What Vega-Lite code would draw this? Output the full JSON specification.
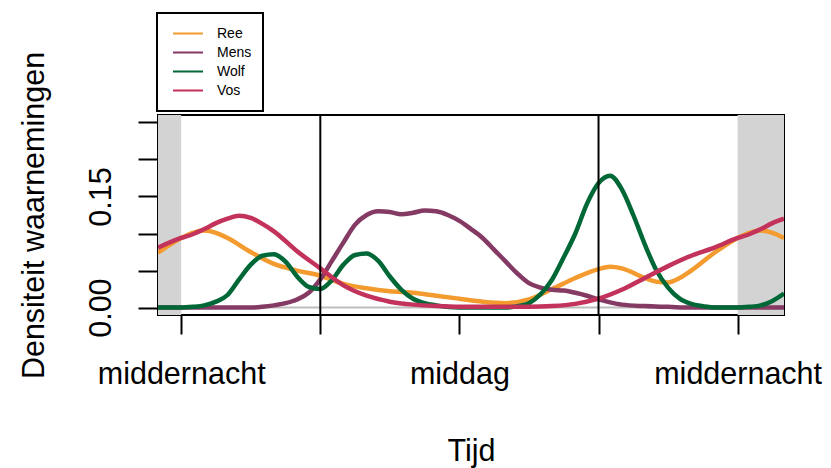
{
  "$schema": "https://vega.github.io/schema/vega-lite/v6.json",
  "width": 626,
  "height": 200,
  "autosize": {"type": "none"},
  "padding": {"left": 158, "top": 115, "right": 47, "bottom": 153},
  "background": "white",
  "config": {
    "view": {"stroke": "black", "strokeWidth": 2},
    "font": "Liberation Sans",
    "legend": {"strokeWidth": 2}
  },
  "datasets": {
    "curves": [
      {"soort": "Ree", "uur": -1, "dichtheid": 0.074},
      {"soort": "Ree", "uur": 0, "dichtheid": 0.094},
      {"soort": "Ree", "uur": 0.5, "dichtheid": 0.101},
      {"soort": "Ree", "uur": 1, "dichtheid": 0.104},
      {"soort": "Ree", "uur": 1.5, "dichtheid": 0.101},
      {"soort": "Ree", "uur": 2, "dichtheid": 0.094},
      {"soort": "Ree", "uur": 3, "dichtheid": 0.075},
      {"soort": "Ree", "uur": 4, "dichtheid": 0.059},
      {"soort": "Ree", "uur": 5, "dichtheid": 0.05},
      {"soort": "Ree", "uur": 6, "dichtheid": 0.043},
      {"soort": "Ree", "uur": 7, "dichtheid": 0.032},
      {"soort": "Ree", "uur": 8, "dichtheid": 0.026},
      {"soort": "Ree", "uur": 9, "dichtheid": 0.022},
      {"soort": "Ree", "uur": 10, "dichtheid": 0.02},
      {"soort": "Ree", "uur": 11, "dichtheid": 0.016},
      {"soort": "Ree", "uur": 12, "dichtheid": 0.012},
      {"soort": "Ree", "uur": 13, "dichtheid": 0.008},
      {"soort": "Ree", "uur": 14, "dichtheid": 0.006},
      {"soort": "Ree", "uur": 15, "dichtheid": 0.011},
      {"soort": "Ree", "uur": 16, "dichtheid": 0.025},
      {"soort": "Ree", "uur": 17, "dichtheid": 0.04},
      {"soort": "Ree", "uur": 18, "dichtheid": 0.052},
      {"soort": "Ree", "uur": 18.5, "dichtheid": 0.055},
      {"soort": "Ree", "uur": 19, "dichtheid": 0.053},
      {"soort": "Ree", "uur": 20, "dichtheid": 0.04},
      {"soort": "Ree", "uur": 20.5, "dichtheid": 0.035},
      {"soort": "Ree", "uur": 21, "dichtheid": 0.034},
      {"soort": "Ree", "uur": 21.5, "dichtheid": 0.04},
      {"soort": "Ree", "uur": 22, "dichtheid": 0.05},
      {"soort": "Ree", "uur": 23, "dichtheid": 0.074},
      {"soort": "Ree", "uur": 24, "dichtheid": 0.094},
      {"soort": "Ree", "uur": 24.5, "dichtheid": 0.101},
      {"soort": "Ree", "uur": 25, "dichtheid": 0.104},
      {"soort": "Ree", "uur": 25.5, "dichtheid": 0.101},
      {"soort": "Ree", "uur": 26, "dichtheid": 0.094},

      {"soort": "Mens", "uur": -1, "dichtheid": 0.0},
      {"soort": "Mens", "uur": 0, "dichtheid": 0.0},
      {"soort": "Mens", "uur": 1, "dichtheid": 0.0},
      {"soort": "Mens", "uur": 2, "dichtheid": 0.0},
      {"soort": "Mens", "uur": 3, "dichtheid": 0.0},
      {"soort": "Mens", "uur": 3.5, "dichtheid": 0.001},
      {"soort": "Mens", "uur": 4, "dichtheid": 0.003},
      {"soort": "Mens", "uur": 4.5, "dichtheid": 0.006},
      {"soort": "Mens", "uur": 5, "dichtheid": 0.011},
      {"soort": "Mens", "uur": 5.5, "dichtheid": 0.02},
      {"soort": "Mens", "uur": 6, "dichtheid": 0.038},
      {"soort": "Mens", "uur": 6.5, "dichtheid": 0.063},
      {"soort": "Mens", "uur": 7, "dichtheid": 0.088},
      {"soort": "Mens", "uur": 7.5, "dichtheid": 0.112},
      {"soort": "Mens", "uur": 8, "dichtheid": 0.125},
      {"soort": "Mens", "uur": 8.5, "dichtheid": 0.13},
      {"soort": "Mens", "uur": 9, "dichtheid": 0.129},
      {"soort": "Mens", "uur": 9.5, "dichtheid": 0.126},
      {"soort": "Mens", "uur": 10, "dichtheid": 0.128},
      {"soort": "Mens", "uur": 10.5, "dichtheid": 0.131},
      {"soort": "Mens", "uur": 11, "dichtheid": 0.13},
      {"soort": "Mens", "uur": 11.5, "dichtheid": 0.125},
      {"soort": "Mens", "uur": 12, "dichtheid": 0.117},
      {"soort": "Mens", "uur": 12.5, "dichtheid": 0.106},
      {"soort": "Mens", "uur": 13, "dichtheid": 0.094},
      {"soort": "Mens", "uur": 13.5, "dichtheid": 0.078},
      {"soort": "Mens", "uur": 14, "dichtheid": 0.062},
      {"soort": "Mens", "uur": 14.5, "dichtheid": 0.046},
      {"soort": "Mens", "uur": 15, "dichtheid": 0.033},
      {"soort": "Mens", "uur": 15.5, "dichtheid": 0.027},
      {"soort": "Mens", "uur": 16, "dichtheid": 0.024},
      {"soort": "Mens", "uur": 16.5, "dichtheid": 0.023},
      {"soort": "Mens", "uur": 17, "dichtheid": 0.02},
      {"soort": "Mens", "uur": 17.5, "dichtheid": 0.016},
      {"soort": "Mens", "uur": 18, "dichtheid": 0.011},
      {"soort": "Mens", "uur": 18.5, "dichtheid": 0.007},
      {"soort": "Mens", "uur": 19, "dichtheid": 0.004},
      {"soort": "Mens", "uur": 20, "dichtheid": 0.002},
      {"soort": "Mens", "uur": 21, "dichtheid": 0.001},
      {"soort": "Mens", "uur": 22, "dichtheid": 0.0},
      {"soort": "Mens", "uur": 23, "dichtheid": 0.0},
      {"soort": "Mens", "uur": 24, "dichtheid": 0.0},
      {"soort": "Mens", "uur": 25, "dichtheid": 0.0},
      {"soort": "Mens", "uur": 26, "dichtheid": 0.0},

      {"soort": "Wolf", "uur": -1, "dichtheid": 0.0},
      {"soort": "Wolf", "uur": 0, "dichtheid": 0.0},
      {"soort": "Wolf", "uur": 0.5, "dichtheid": 0.001},
      {"soort": "Wolf", "uur": 1, "dichtheid": 0.003},
      {"soort": "Wolf", "uur": 1.5, "dichtheid": 0.008},
      {"soort": "Wolf", "uur": 2, "dichtheid": 0.017},
      {"soort": "Wolf", "uur": 2.5, "dichtheid": 0.038},
      {"soort": "Wolf", "uur": 3, "dichtheid": 0.058},
      {"soort": "Wolf", "uur": 3.5, "dichtheid": 0.07},
      {"soort": "Wolf", "uur": 4, "dichtheid": 0.072},
      {"soort": "Wolf", "uur": 4.5, "dichtheid": 0.062},
      {"soort": "Wolf", "uur": 5, "dichtheid": 0.042},
      {"soort": "Wolf", "uur": 5.5, "dichtheid": 0.028},
      {"soort": "Wolf", "uur": 6, "dichtheid": 0.025},
      {"soort": "Wolf", "uur": 6.5, "dichtheid": 0.037},
      {"soort": "Wolf", "uur": 7, "dichtheid": 0.058},
      {"soort": "Wolf", "uur": 7.5, "dichtheid": 0.071},
      {"soort": "Wolf", "uur": 8, "dichtheid": 0.073},
      {"soort": "Wolf", "uur": 8.5, "dichtheid": 0.063},
      {"soort": "Wolf", "uur": 9, "dichtheid": 0.042},
      {"soort": "Wolf", "uur": 9.5, "dichtheid": 0.024},
      {"soort": "Wolf", "uur": 10, "dichtheid": 0.012},
      {"soort": "Wolf", "uur": 10.5, "dichtheid": 0.006},
      {"soort": "Wolf", "uur": 11, "dichtheid": 0.003},
      {"soort": "Wolf", "uur": 12, "dichtheid": 0.0},
      {"soort": "Wolf", "uur": 13, "dichtheid": 0.0},
      {"soort": "Wolf", "uur": 14, "dichtheid": 0.0},
      {"soort": "Wolf", "uur": 14.5, "dichtheid": 0.002},
      {"soort": "Wolf", "uur": 15, "dichtheid": 0.006},
      {"soort": "Wolf", "uur": 15.5, "dichtheid": 0.018},
      {"soort": "Wolf", "uur": 16, "dichtheid": 0.038},
      {"soort": "Wolf", "uur": 16.5, "dichtheid": 0.068},
      {"soort": "Wolf", "uur": 17, "dichtheid": 0.1},
      {"soort": "Wolf", "uur": 17.5, "dichtheid": 0.14},
      {"soort": "Wolf", "uur": 18, "dichtheid": 0.168},
      {"soort": "Wolf", "uur": 18.5, "dichtheid": 0.178},
      {"soort": "Wolf", "uur": 19, "dichtheid": 0.16},
      {"soort": "Wolf", "uur": 19.5, "dichtheid": 0.125},
      {"soort": "Wolf", "uur": 20, "dichtheid": 0.085},
      {"soort": "Wolf", "uur": 20.5, "dichtheid": 0.05},
      {"soort": "Wolf", "uur": 21, "dichtheid": 0.027},
      {"soort": "Wolf", "uur": 21.5, "dichtheid": 0.012},
      {"soort": "Wolf", "uur": 22, "dichtheid": 0.005},
      {"soort": "Wolf", "uur": 22.5, "dichtheid": 0.002},
      {"soort": "Wolf", "uur": 23, "dichtheid": 0.0},
      {"soort": "Wolf", "uur": 24, "dichtheid": 0.0},
      {"soort": "Wolf", "uur": 24.5, "dichtheid": 0.001},
      {"soort": "Wolf", "uur": 25, "dichtheid": 0.003},
      {"soort": "Wolf", "uur": 25.5, "dichtheid": 0.009},
      {"soort": "Wolf", "uur": 26, "dichtheid": 0.019},

      {"soort": "Vos", "uur": -1, "dichtheid": 0.081},
      {"soort": "Vos", "uur": 0, "dichtheid": 0.094},
      {"soort": "Vos", "uur": 0.5, "dichtheid": 0.099},
      {"soort": "Vos", "uur": 1, "dichtheid": 0.106},
      {"soort": "Vos", "uur": 1.5, "dichtheid": 0.114},
      {"soort": "Vos", "uur": 2, "dichtheid": 0.12},
      {"soort": "Vos", "uur": 2.5, "dichtheid": 0.124},
      {"soort": "Vos", "uur": 3, "dichtheid": 0.121},
      {"soort": "Vos", "uur": 3.5, "dichtheid": 0.113},
      {"soort": "Vos", "uur": 4, "dichtheid": 0.103},
      {"soort": "Vos", "uur": 5, "dichtheid": 0.076},
      {"soort": "Vos", "uur": 6, "dichtheid": 0.053},
      {"soort": "Vos", "uur": 7, "dichtheid": 0.03},
      {"soort": "Vos", "uur": 8, "dichtheid": 0.016},
      {"soort": "Vos", "uur": 9, "dichtheid": 0.008},
      {"soort": "Vos", "uur": 10, "dichtheid": 0.004},
      {"soort": "Vos", "uur": 11, "dichtheid": 0.002},
      {"soort": "Vos", "uur": 12, "dichtheid": 0.001},
      {"soort": "Vos", "uur": 13, "dichtheid": 0.001},
      {"soort": "Vos", "uur": 14, "dichtheid": 0.001},
      {"soort": "Vos", "uur": 15, "dichtheid": 0.001},
      {"soort": "Vos", "uur": 16, "dichtheid": 0.002},
      {"soort": "Vos", "uur": 17, "dichtheid": 0.005},
      {"soort": "Vos", "uur": 18, "dichtheid": 0.012},
      {"soort": "Vos", "uur": 19, "dichtheid": 0.024},
      {"soort": "Vos", "uur": 20, "dichtheid": 0.04},
      {"soort": "Vos", "uur": 21, "dichtheid": 0.056},
      {"soort": "Vos", "uur": 22, "dichtheid": 0.07},
      {"soort": "Vos", "uur": 23, "dichtheid": 0.081},
      {"soort": "Vos", "uur": 24, "dichtheid": 0.094},
      {"soort": "Vos", "uur": 24.5, "dichtheid": 0.099},
      {"soort": "Vos", "uur": 25, "dichtheid": 0.106},
      {"soort": "Vos", "uur": 25.5, "dichtheid": 0.114},
      {"soort": "Vos", "uur": 26, "dichtheid": 0.12}
    ],
    "nacht": [
      {"uur": -1, "tot": 0},
      {"uur": 24, "tot": 26}
    ],
    "nullijn": [{"dichtheid": 0}],
    "scheiding": [{"uur": 6}, {"uur": 18}]
  },
  "layer": [
    {
      "data": {"name": "curves"},
      "mark": {"type": "line", "strokeWidth": 4.5, "interpolate": "monotone", "clip": true, "opacity": 0},
      "encoding": {
        "x": {
          "field": "uur", "type": "quantitative",
          "scale": {"domain": [-1, 26], "nice": false, "zero": false},
          "axis": {
            "values": [0, 6, 12, 18, 24], "tickCount": 20,
            "labelExpr": "datum.value == 0 || datum.value == 24 ? 'middernacht' : (datum.value == 12 ? 'middag' : '')",
            "domain": false, "grid": false,
            "ticks": true, "tickSize": 19, "tickWidth": 2, "tickColor": "black",
            "labelFont": "Liberation Sans", "labelFontSize": 30.5, "labelColor": "black",
            "labelBaseline": "alphabetic", "labelPadding": 49, "labelFlush": false, "labelOverlap": false,
            "title": "Tijd", "titleFont": "Liberation Sans", "titleFontSize": 30.5, "titleFontWeight": "normal",
            "titleColor": "black", "titleBaseline": "alphabetic", "titleAlign": "center",
            "titleX": 313, "titleY": 145
          }
        },
        "y": {
          "field": "dichtheid", "type": "quantitative",
          "scale": {"domain": [-0.01, 0.26], "nice": false, "zero": false},
          "axis": {
            "values": [0, 0.05, 0.1, 0.15, 0.2, 0.25], "tickCount": 20,
            "labelExpr": "datum.value == 0 ? '0.00' : (datum.value == 0.15 ? '0.15' : '')",
            "domain": false, "grid": false,
            "ticks": true, "tickSize": 20, "tickWidth": 2, "tickColor": "black",
            "labelFont": "Liberation Sans", "labelFontSize": 30.5, "labelColor": "black",
            "labelAngle": -90, "labelAlign": "center", "labelBaseline": "alphabetic",
            "labelPadding": 28, "labelFlush": false, "labelOverlap": false,
            "title": "Densiteit waarnemingen", "titleFont": "Liberation Sans", "titleFontSize": 30.5,
            "titleFontWeight": "normal", "titleColor": "black", "titleAngle": -90,
            "titleBaseline": "alphabetic", "titleAlign": "center",
            "titleX": -115, "titleY": 100
          }
        },
        "detail": {"field": "soort", "type": "nominal"}
      }
    },
    {
      "data": {"name": "nacht"},
      "mark": {"type": "rect", "color": "#d3d3d3", "clip": true},
      "encoding": {
        "x": {"field": "uur", "type": "quantitative"},
        "x2": {"field": "tot"}
      }
    },
    {
      "data": {"name": "nullijn"},
      "mark": {"type": "rule", "color": "#bebebe", "strokeWidth": 2},
      "encoding": {
        "y": {"field": "dichtheid", "type": "quantitative"}
      }
    },
    {
      "data": {"name": "curves"},
      "mark": {"type": "line", "strokeWidth": 4.5, "interpolate": "monotone", "clip": true},
      "encoding": {
        "x": {"field": "uur", "type": "quantitative"},
        "y": {"field": "dichtheid", "type": "quantitative"},
        "color": {
          "field": "soort", "type": "nominal",
          "scale": {"domain": ["Ree", "Mens", "Wolf", "Vos"], "range": ["#F39B2F", "#843A63", "#006837", "#C3325A"]},
          "legend": {
            "title": null,
            "orient": "none", "legendX": -1, "legendY": -102,
            "strokeColor": "black", "fillColor": "white", "padding": 11,
            "symbolType": "stroke", "symbolSize": 900, "symbolStrokeWidth": 2,
            "symbolOffset": 4, "labelOffset": 13, "rowPadding": 0, "clipHeight": 19,
            "labelFont": "Liberation Sans", "labelFontSize": 14, "labelColor": "black"
          }
        }
      }
    },
    {
      "data": {"name": "scheiding"},
      "mark": {"type": "rule", "color": "black", "strokeWidth": 2},
      "encoding": {
        "x": {"field": "uur", "type": "quantitative"}
      }
    }
  ]
}
